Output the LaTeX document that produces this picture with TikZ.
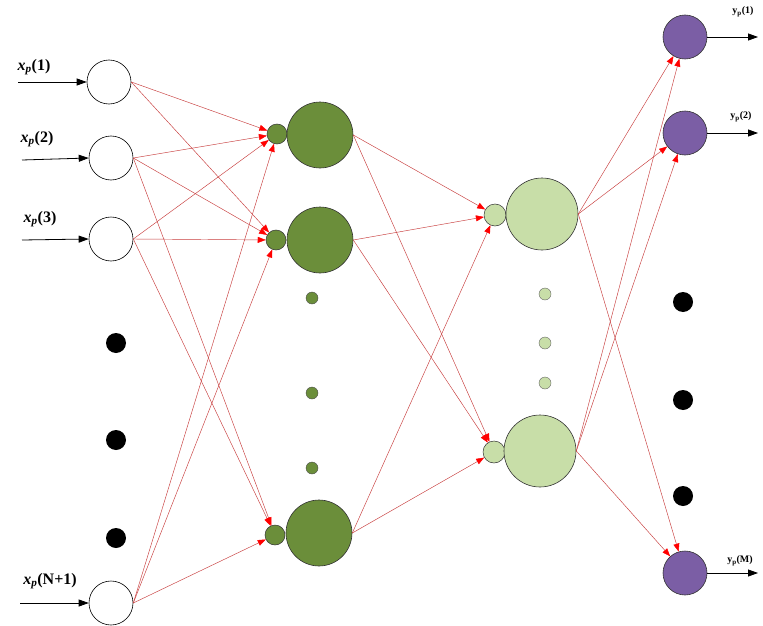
\documentclass[tikz,border=0pt]{standalone}
\usepackage{fontspec}
\setmainfont{Liberation Serif}
\usetikzlibrary{arrows.meta}
\definecolor{hgreen}{RGB}{107,142,58}
\definecolor{lgreen}{RGB}{200,222,168}
\definecolor{outpurp}{RGB}{123,94,165}
\definecolor{linkred}{RGB}{200,60,60}
\newcommand{\xp}{\textbf{\textit{x}\textsubscript{\textit{p}}}}
\tikzset{
  inp/.style={circle,draw=black,fill=white,minimum size=44pt,inner sep=0pt,line width=0.6pt},
  blk/.style={circle,fill=black,minimum size=20pt,inner sep=0pt},
  hsmall/.style={circle,draw=black!80,fill=hgreen,minimum size=20pt,inner sep=0pt,line width=0.5pt},
  hbig/.style={circle,draw=black!80,fill=hgreen,minimum size=66pt,inner sep=0pt,line width=0.6pt},
  hdot/.style={circle,draw=black!70,fill=hgreen,minimum size=12pt,inner sep=0pt,line width=0.4pt},
  lsmall/.style={circle,draw=black!80,fill=lgreen,minimum size=22pt,inner sep=0pt,line width=0.5pt},
  lbig/.style={circle,draw=black!80,fill=lgreen,minimum size=72pt,inner sep=0pt,line width=0.6pt},
  ldot/.style={circle,draw=black!60,fill=lgreen,minimum size=12pt,inner sep=0pt,line width=0.4pt},
  outn/.style={circle,draw=black!80,fill=outpurp,minimum size=44pt,inner sep=0pt,line width=0.6pt},
  conn/.style={draw=linkred,line width=0.45pt,-{Triangle[length=8pt,width=6pt,color=red,fill=red]}},
  inarrow/.style={draw=black,line width=0.8pt,-{Triangle[length=10pt,width=7pt]}},
  xlab/.style={font=\fontsize{16}{18}\selectfont\bfseries,inner sep=0pt},
  ylab/.style={font=\fontsize{10}{12}\selectfont\bfseries,inner sep=0pt}
}
\begin{document}
\begin{tikzpicture}[x=1pt,y=-1pt]
\useasboundingbox[fill=white] (0,0) rectangle (763,626);
% input layer
\node[inp] (i1) at (109,82) {};
\node[inp] (i2) at (111,158) {};
\node[inp] (i3) at (111,239) {};
\node[inp] (i4) at (111,603) {};
\node[blk] (b1) at (116,343) {};
\node[blk] (b2) at (116,440) {};
\node[blk] (b3) at (116,538) {};
% input arrows and labels
\coordinate (a1) at (18,82);
\coordinate (a2) at (22,160);
\coordinate (a3) at (22,240);
\coordinate (a4) at (20,603);
\draw[inarrow] (a1) -- (i1.west);
\draw[inarrow] (a2) -- (i2.west);
\draw[inarrow] (a3) -- (i3.west);
\draw[inarrow] (a4) -- (i4.west);
\node[xlab] (l1) at (34,67) {\xp(1)};
\node[xlab] (l2) at (37,139) {\xp(2)};
\node[xlab] (l3) at (40,219) {\xp(3)};
\node[xlab] (l4) at (50,581) {\xp(N+1)};
% hidden layer 1
\node[hsmall] (h1s1) at (277,134) {};
\node[hbig] (h1b1) at (320,135) {};
\node[hsmall] (h1s2) at (276,240) {};
\node[hbig] (h1b2) at (320,240) {};
\node[hsmall] (h1s3) at (275,535) {};
\node[hbig] (h1b3) at (319,533) {};
\node[hdot] (hd1) at (312,298) {};
\node[hdot] (hd2) at (312,393) {};
\node[hdot] (hd3) at (312,468) {};
% hidden layer 2
\node[lsmall] (h2s1) at (495,215) {};
\node[lbig] (h2b1) at (542,214) {};
\node[lsmall] (h2s2) at (494,452) {};
\node[lbig] (h2b2) at (540,451) {};
\node[ldot] (ld1) at (545,294) {};
\node[ldot] (ld2) at (545,343) {};
\node[ldot] (ld3) at (545,383) {};
% output layer
\node[outn] (o1) at (685,37) {};
\node[outn] (o2) at (685,133) {};
\node[outn] (o3) at (685,573) {};
\node[blk] (ob1) at (683,302) {};
\node[blk] (ob2) at (683,400) {};
\node[blk] (ob3) at (683,496) {};
\coordinate (e1) at (758,37);
\coordinate (e2) at (758,133);
\coordinate (e3) at (758,573);
\draw[inarrow] (o1.east) -- (e1);
\draw[inarrow] (o2.east) -- (e2);
\draw[inarrow] (o3.east) -- (e3);
\node[ylab] (m1) at (743,12) {y\textsubscript{p}(1)};
\node[ylab] (m2) at (741,117) {y\textsubscript{p}(2)};
\node[ylab] (m3) at (740,561) {y\textsubscript{p}(M)};
% connections input -> hidden 1
\foreach \s in {i1,i2,i3,i4}{
  \foreach \t in {h1s1,h1s2}{
    \draw[conn] (\s.east) -- (\t);
  }
}
\foreach \s in {i2,i3,i4}{
  \draw[conn] (\s.east) -- (h1s3);
}
% hidden 1 -> hidden 2
\foreach \s in {h1b1,h1b2,h1b3}{
  \foreach \t in {h2s1,h2s2}{
    \draw[conn] (\s.east) -- (\t);
  }
}
% hidden 2 -> output
\foreach \s in {h2b1,h2b2}{
  \foreach \t in {o1,o2,o3}{
    \draw[conn] (\s.east) -- (\t);
  }
}
\end{tikzpicture}
\end{document}
